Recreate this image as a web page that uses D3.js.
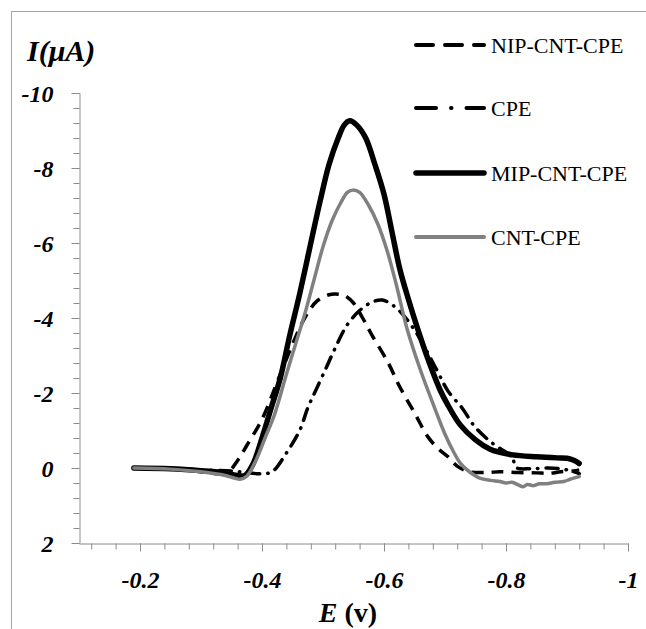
<!DOCTYPE html>
<html>
<head>
<meta charset="utf-8">
<script src="https://cdn.jsdelivr.net/npm/d3@7"></script>
<style>
  body { margin: 0; background: #fff; }
</style>
</head>
<body>
<div id="chart"></div>
<script>
// Data: [E (V), I (uA)]
const nipCntCpe = [
  [-0.19, 0.0], [-0.25, 0.03], [-0.30, 0.1], [-0.33, 0.15], [-0.345, 0.1],
  [-0.36, -0.2], [-0.375, -0.6], [-0.40, -1.3], [-0.43, -2.5], [-0.45, -3.3],
  [-0.47, -4.0], [-0.49, -4.45], [-0.51, -4.62], [-0.52, -4.64], [-0.535, -4.6],
  [-0.55, -4.4], [-0.565, -4.0], [-0.58, -3.55], [-0.607, -2.8], [-0.626, -2.16],
  [-0.65, -1.47], [-0.672, -0.83], [-0.69, -0.5], [-0.705, -0.3], [-0.72, -0.05],
  [-0.74, 0.1], [-0.77, 0.12], [-0.79, 0.1], [-0.82, 0.12], [-0.85, 0.13],
  [-0.872, 0.14], [-0.89, 0.1], [-0.91, 0.08], [-0.92, 0.05]
];
const cpe = [
  [-0.19, 0.0], [-0.25, 0.02], [-0.30, 0.05], [-0.35, 0.08], [-0.39, 0.15],
  [-0.405, 0.15], [-0.417, 0.1], [-0.44, -0.4], [-0.462, -1.01], [-0.475, -1.6],
  [-0.487, -2.03], [-0.506, -2.7], [-0.52, -3.2], [-0.539, -3.8], [-0.56, -4.2],
  [-0.58, -4.42], [-0.597, -4.48], [-0.62, -4.27], [-0.65, -3.68], [-0.687, -2.6],
  [-0.705, -2.05], [-0.728, -1.6], [-0.749, -1.1], [-0.777, -0.67], [-0.80, -0.42],
  [-0.81, -0.32], [-0.814, -0.1], [-0.818, 0.0], [-0.84, 0.02], [-0.87, 0.0],
  [-0.90, 0.05], [-0.92, 0.15]
];
const mipCntCpe = [
  [-0.19, 0.0], [-0.25, 0.02], [-0.30, 0.07], [-0.34, 0.13], [-0.36, 0.2],
  [-0.372, 0.2], [-0.385, -0.1], [-0.40, -0.8], [-0.415, -1.6], [-0.43, -2.4],
  [-0.445, -3.5], [-0.462, -4.66], [-0.48, -6.0], [-0.495, -7.1], [-0.51, -8.1],
  [-0.525, -8.8], [-0.535, -9.15], [-0.544, -9.26], [-0.555, -9.15], [-0.57, -8.8],
  [-0.585, -8.1], [-0.60, -7.3], [-0.613, -6.3], [-0.626, -5.3], [-0.64, -4.5],
  [-0.654, -3.77], [-0.67, -3.0], [-0.692, -2.08], [-0.703, -1.73], [-0.725, -1.15],
  [-0.75, -0.75], [-0.774, -0.5], [-0.79, -0.42], [-0.811, -0.35], [-0.85, -0.3],
  [-0.884, -0.27], [-0.90, -0.26], [-0.912, -0.2], [-0.92, -0.12]
];
const cntCpe = [
  [-0.19, 0.0], [-0.25, 0.03], [-0.30, 0.1], [-0.34, 0.2], [-0.355, 0.27],
  [-0.364, 0.3], [-0.375, 0.22], [-0.39, -0.2], [-0.405, -0.8], [-0.42, -1.4],
  [-0.44, -2.5], [-0.455, -3.3], [-0.47, -4.1], [-0.485, -5.0], [-0.50, -5.9],
  [-0.515, -6.6], [-0.53, -7.1], [-0.54, -7.35], [-0.549, -7.41], [-0.56, -7.35],
  [-0.575, -7.0], [-0.59, -6.5], [-0.605, -5.8], [-0.62, -4.9], [-0.638, -3.7],
  [-0.66, -2.6], [-0.68, -1.73], [-0.70, -0.9], [-0.715, -0.4], [-0.725, -0.13],
  [-0.74, 0.1], [-0.757, 0.27], [-0.775, 0.33], [-0.79, 0.36], [-0.80, 0.4],
  [-0.81, 0.38], [-0.82, 0.45], [-0.828, 0.5], [-0.835, 0.44], [-0.845, 0.47],
  [-0.855, 0.42], [-0.867, 0.42], [-0.88, 0.38], [-0.895, 0.36], [-0.905, 0.3],
  [-0.92, 0.23]
];

const seriesNames = ["NIP-CNT-CPE", "CPE", "MIP-CNT-CPE", "CNT-CPE"];
const xMajorTicks = [-0.2, -0.4, -0.6, -0.8, -1];
const yMajorTicks = [-10, -8, -6, -4, -2, 0, 2];

const serif = "Liberation Serif, Times New Roman, serif";
const width = 646, height = 629;
const svg = d3.select("#chart").append("svg")
  .attr("width", width)
  .attr("height", height)
  .attr("font-family", serif);

// outer chart frame
svg.append("rect")
  .attr("x", 11.5).attr("y", 11.5)
  .attr("width", width).attr("height", height)
  .attr("fill", "none")
  .attr("stroke", "#a6a6a6");

const x = d3.scaleLinear().domain([-0.1, -1]).range([79, 628]);
const y = d3.scaleLinear().domain([2, -10]).range([543, 93]);

// minor ticks
const xMinor = d3.range(3, 26).map(i => -i * 0.04);
const yMinor = d3.range(-25, 6).map(i => i * 0.4);

function styleAxis(g) {
  g.attr("font-family", serif);
  g.select(".domain").attr("stroke", "#8c8c8c");
  g.selectAll(".tick line").attr("stroke", "#8c8c8c");
}

function styleLabels(sel) {
  sel.attr("fill", "#000")
    .attr("font-family", serif)
    .attr("font-size", 24)
    .attr("font-weight", "bold")
    .attr("font-style", "italic");
}

svg.append("g")
  .attr("transform", "translate(0,543.5)")
  .call(d3.axisBottom(x).tickValues(xMinor).tickSize(6).tickSizeOuter(0).tickFormat(""))
  .call(styleAxis);
svg.append("g")
  .attr("transform", "translate(0,543.5)")
  .call(d3.axisBottom(x).tickValues(xMajorTicks).tickSize(8).tickSizeOuter(0).tickFormat(d => String(d)))
  .call(styleAxis)
  .call(g => g.select(".domain").remove())
  .selectAll("text")
  .attr("y", 44)
  .attr("dy", 0)
  .call(styleLabels);

svg.append("g")
  .attr("transform", "translate(79.5,0)")
  .call(d3.axisLeft(y).tickValues(yMinor).tickSize(6).tickSizeOuter(0).tickFormat(""))
  .call(styleAxis);
svg.append("g")
  .attr("transform", "translate(79.5,0)")
  .call(d3.axisLeft(y).tickValues(yMajorTicks).tickSize(8).tickSizeOuter(0).tickFormat(d => String(d)))
  .call(styleAxis)
  .call(g => g.select(".domain").remove())
  .selectAll("text")
  .attr("x", -26)
  .attr("dy", "0.36em")
  .call(styleLabels);

// axis titles
svg.append("text")
  .attr("x", 27).attr("y", 61)
  .attr("font-size", 30)
  .attr("font-weight", "bold")
  .attr("font-style", "italic")
  .text("I(\u03bcA)");

const xt = svg.append("text")
  .attr("x", 348).attr("y", 622)
  .attr("text-anchor", "middle")
  .attr("font-size", 28)
  .attr("font-weight", "bold");
xt.append("tspan").attr("font-style", "italic").text("E ");
xt.append("tspan").text("(v)");

// lines
const line = d3.line()
  .x(d => x(d[0]))
  .y(d => y(d[1]))
  .curve(d3.curveCatmullRom.alpha(0.5));

const styles = [
  { data: nipCntCpe, color: "#000", width: 3.5, dash: "12,8", cap: "butt", legendDash: "17,12" },
  { data: cpe, color: "#000", width: 3.5, dash: "12,8,0.5,8", cap: "round", legendDash: "20,15,0.5,15" },
  { data: mipCntCpe, color: "#000", width: 5.5, dash: null, cap: "round", legendDash: null },
  { data: cntCpe, color: "#808080", width: 3.5, dash: null, cap: "round", legendDash: null }
];

styles.forEach(s => {
  svg.append("path")
    .datum(s.data)
    .attr("d", line)
    .attr("fill", "none")
    .attr("stroke", s.color)
    .attr("stroke-width", s.width)
    .attr("stroke-dasharray", s.dash)
    .attr("stroke-linecap", s.cap)
    .attr("stroke-linejoin", "round");
});

// legend
const legendY = [45, 108, 173, 237];
const legend = svg.append("g");
seriesNames.forEach((name, i) => {
  const s = styles[i];
  legend.append("line")
    .attr("x1", 416).attr("x2", 484)
    .attr("y1", legendY[i]).attr("y2", legendY[i])
    .attr("stroke", s.color)
    .attr("stroke-width", i === 2 ? 5.5 : 4)
    .attr("stroke-dasharray", s.legendDash)
    .attr("stroke-linecap", "round");
  legend.append("text")
    .attr("x", 491).attr("y", legendY[i])
    .attr("dy", "0.35em")
    .attr("font-size", 22)
    .text(name);
});
</script>
</body>
</html>
